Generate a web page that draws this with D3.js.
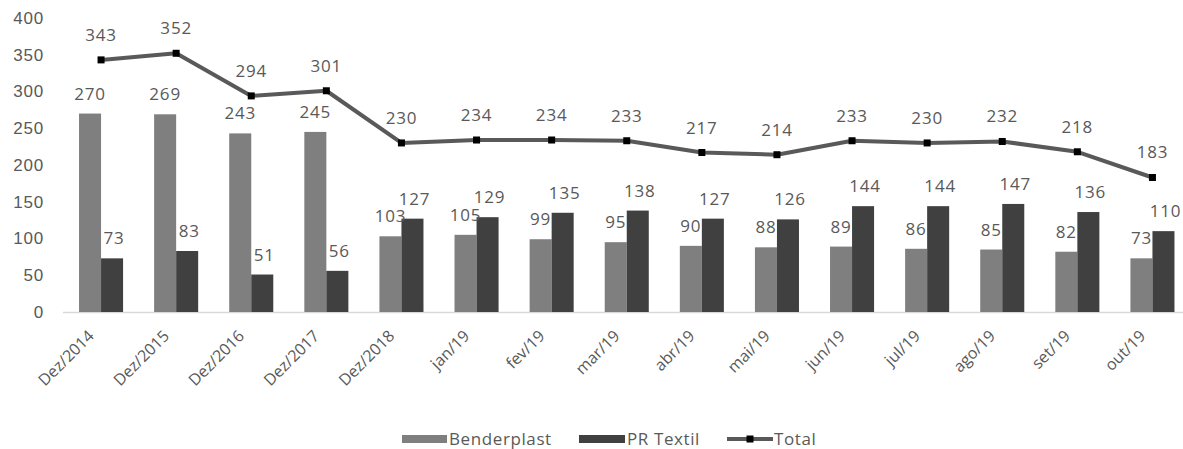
<!DOCTYPE html>
<html>
<head>
<meta charset="utf-8">
<script src="https://cdn.jsdelivr.net/npm/d3@7"></script>
<style>
  body { margin: 0; background: #fff; }
  svg { font-family: "Open Sans", "Noto Sans", sans-serif; }
</style>
</head>
<body>
<svg id="chart" width="1183" height="449"></svg>
<script>
// chart data
const categories = ["Dez/2014", "Dez/2015", "Dez/2016", "Dez/2017", "Dez/2018", "jan/19", "fev/19", "mar/19", "abr/19", "mai/19", "jun/19", "jul/19", "ago/19", "set/19", "out/19"];
const benderplast = [270, 269, 243, 245, 103, 105, 99, 95, 90, 88, 89, 86, 85, 82, 73];
const prTextil = [73, 83, 51, 56, 127, 129, 135, 138, 127, 126, 144, 144, 147, 136, 110];
const total = [343, 352, 294, 301, 230, 234, 234, 233, 217, 214, 233, 230, 232, 218, 183];
const yTicks = [0, 50, 100, 150, 200, 250, 300, 350, 400];
const seriesNames = ["Benderplast", "PR Textil", "Total"];

const textColor = "#595959";
const colBender = "#7f7f7f";
const colPR = "#404040";
const colTotal = "#595959";
const labelSize = 17;

const svg = d3.select("#chart");

const x = d3.scaleBand()
  .domain(categories)
  .range([63.5, 1190])
  .paddingInner(0)
  .paddingOuter(0);

const x1 = d3.scaleBand()
  .domain(["b", "p"])
  .range([0, x.bandwidth()])
  .paddingInner(0)
  .paddingOuter(0.705);

const y = d3.scaleLinear()
  .domain([0, 400])
  .range([312, 18]);

// y axis labels (no line)
const yAxis = svg.append("g")
  .attr("transform", "translate(44,0)")
  .call(d3.axisLeft(y).tickValues(yTicks).tickSize(0).tickPadding(0));
yAxis.select(".domain").remove();
yAxis.selectAll("text")
  .attr("fill", textColor)
  .attr("font-size", labelSize)
  .attr("letter-spacing", 0.8)
  .attr("text-anchor", "end")
  .attr("x", 0);

// x axis baseline
svg.append("line")
  .attr("x1", 63).attr("x2", 1183)
  .attr("y1", y(0) + 0.5).attr("y2", y(0) + 0.5)
  .attr("stroke", "#d9d9d9")
  .attr("stroke-width", 1.5);

// bars
const groups = svg.selectAll("g.cat")
  .data(categories)
  .enter().append("g")
  .attr("class", "cat")
  .attr("transform", d => "translate(" + x(d) + ",0)");

groups.append("rect")
  .attr("x", x1("b"))
  .attr("y", (d, i) => y(benderplast[i]))
  .attr("width", x1.bandwidth())
  .attr("height", (d, i) => y(0) - y(benderplast[i]))
  .attr("fill", colBender);

groups.append("rect")
  .attr("x", x1("p"))
  .attr("y", (d, i) => y(prTextil[i]))
  .attr("width", x1.bandwidth())
  .attr("height", (d, i) => y(0) - y(prTextil[i]))
  .attr("fill", colPR);

// bar labels
groups.append("text")
  .attr("x", x1("b") + x1.bandwidth() / 2)
  .attr("y", (d, i) => y(benderplast[i]) - 14)
  .attr("text-anchor", "middle")
  .attr("font-size", labelSize)
  .attr("letter-spacing", 0.8)
  .attr("fill", textColor)
  .text((d, i) => benderplast[i]);

groups.append("text")
  .attr("x", x1("p") + x1.bandwidth() / 2 + 2)
  .attr("y", (d, i) => y(prTextil[i]) - 14)
  .attr("text-anchor", "middle")
  .attr("font-size", labelSize)
  .attr("letter-spacing", 0.8)
  .attr("fill", textColor)
  .text((d, i) => prTextil[i]);

// total line
const cx = d => x(d) + x.bandwidth() / 2;
svg.append("path")
  .datum(categories)
  .attr("fill", "none")
  .attr("stroke", colTotal)
  .attr("stroke-width", 4)
  .attr("stroke-linejoin", "round")
  .attr("d", d3.line()
    .x(d => cx(d))
    .y((d, i) => y(total[i])));

svg.selectAll("rect.marker")
  .data(categories)
  .enter().append("rect")
  .attr("class", "marker")
  .attr("x", d => cx(d) - 3.5)
  .attr("y", (d, i) => y(total[i]) - 3.5)
  .attr("width", 7)
  .attr("height", 7)
  .attr("fill", "#000");

svg.selectAll("text.totlab")
  .data(categories)
  .enter().append("text")
  .attr("class", "totlab")
  .attr("x", d => cx(d))
  .attr("y", (d, i) => y(total[i]) - 19)
  .attr("text-anchor", "middle")
  .attr("font-size", labelSize)
  .attr("letter-spacing", 0.8)
  .attr("fill", textColor)
  .text((d, i) => total[i]);

// category labels, rotated
svg.selectAll("text.cat")
  .data(categories)
  .enter().append("text")
  .attr("class", "cat")
  .attr("transform", d => "translate(" + (cx(d) - 10) + "," + 333 + ") rotate(-45)")
  .attr("text-anchor", "end")
  .attr("dy", "0.35em")
  .attr("font-size", 16)
  .attr("fill", textColor)
  .text(d => d);

// legend
const legend = svg.append("g").attr("transform", "translate(0,439)");
legend.append("rect").attr("x", 402).attr("y", -4).attr("width", 45).attr("height", 8).attr("fill", colBender);
legend.append("text").attr("x", 449).attr("y", 0).attr("dy", "0.35em").attr("font-size", 17).attr("letter-spacing", 0.6).attr("fill", textColor).text(seriesNames[0]);
legend.append("rect").attr("x", 579).attr("y", -4).attr("width", 46).attr("height", 8).attr("fill", colPR);
legend.append("text").attr("x", 627).attr("y", 0).attr("dy", "0.35em").attr("font-size", 17).attr("letter-spacing", 0.6).attr("fill", textColor).text(seriesNames[1]);
legend.append("line").attr("x1", 727).attr("x2", 773).attr("y1", 0).attr("y2", 0).attr("stroke", colTotal).attr("stroke-width", 4);
legend.append("rect").attr("x", 746.5).attr("y", -3.5).attr("width", 7).attr("height", 7).attr("fill", "#000");
legend.append("text").attr("x", 774).attr("y", 0).attr("dy", "0.35em").attr("font-size", 17).attr("letter-spacing", 0.6).attr("fill", textColor).text(seriesNames[2]);
</script>
</body>
</html>
